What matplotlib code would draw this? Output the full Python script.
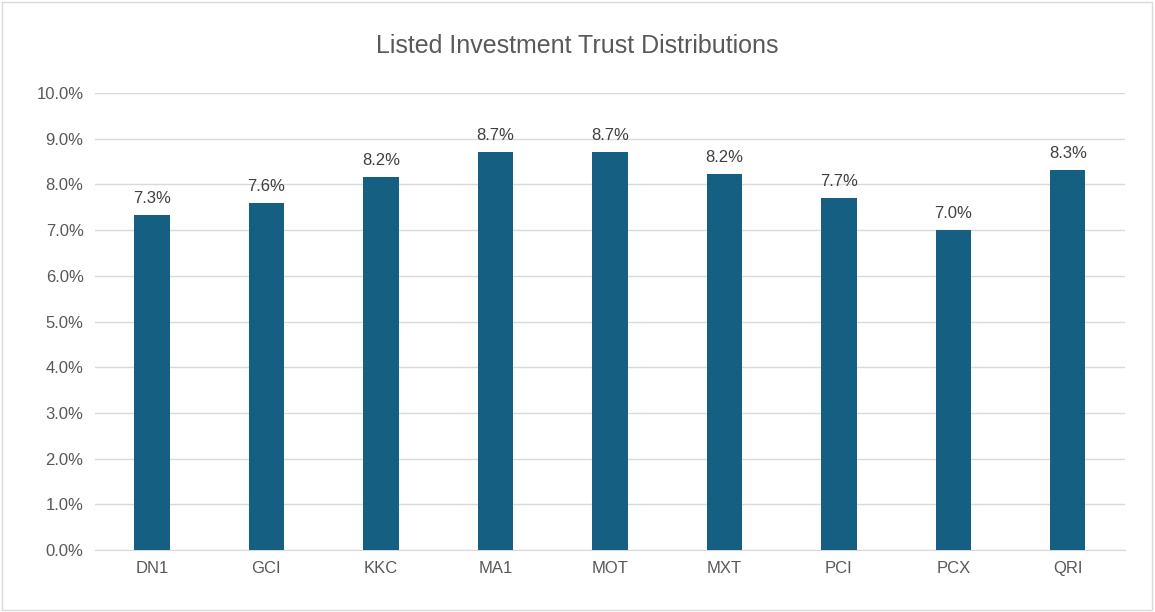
import matplotlib.pyplot as plt
from matplotlib.patches import Rectangle

plt.rcParams['font.family'] = 'Liberation Sans'

trusts = ["DN1", "GCI", "KKC", "MA1", "MOT", "MXT", "PCI", "PCX", "QRI"]
distributions = [7.33, 7.60, 8.17, 8.70, 8.70, 8.22, 7.70, 7.00, 8.31]

fig = plt.figure(figsize=(11.55, 6.12), dpi=100)
ax = fig.add_axes([0.082, 0.101, 0.892, 0.747])

bars = ax.bar(range(len(trusts)), distributions, width=0.31, color="#156082", zorder=3)
for b, v in zip(bars, distributions):
    ax.text(b.get_x() + b.get_width() / 2, v + 0.2, f"{v:.1f}%", ha="center",
            va="bottom", fontsize=12, color="#404040")

ax.set_ylim(0, 10)
ax.set_xlim(-0.5, len(trusts) - 0.5)
ax.set_yticks(range(0, 11))
ax.set_yticklabels([f"{i:.1f}%" for i in range(0, 11)], fontsize=12, color="#595959")
ax.set_xticks(range(len(trusts)))
ax.set_xticklabels(trusts, fontsize=12, color="#595959")
ax.grid(axis="y", color="#d9d9d9", linewidth=1, zorder=0)
for s in ["top", "right", "left"]:
    ax.spines[s].set_visible(False)
ax.spines["bottom"].set_color("#d9d9d9")
ax.tick_params(length=0, pad=8)

fig.text(0.5, 0.925, "Listed Investment Trust Distributions", ha="center",
         va="center", fontsize=18, color="#595959")
fig.patches.append(Rectangle((0.002, 0.003), 0.995, 0.993, transform=fig.transFigure,
                             fill=False, edgecolor="#d9d9d9", linewidth=1))

fig.savefig("out.png", dpi=100)
